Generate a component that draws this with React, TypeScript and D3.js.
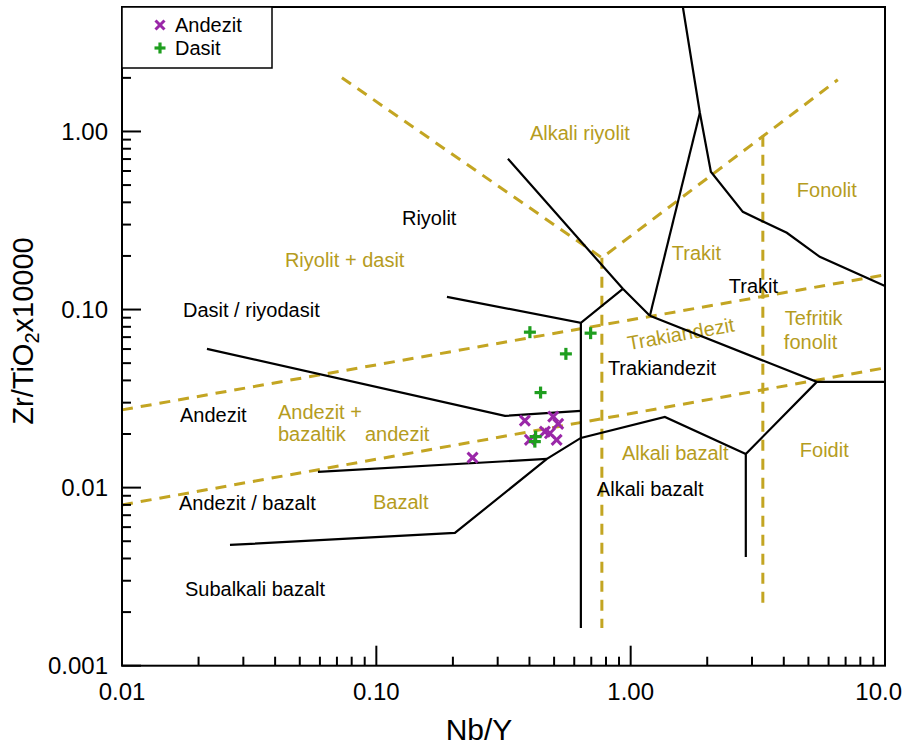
import React from "react";
import * as d3 from "d3";

// Axis extents (log scales)
const xDomain = [0.01, 10];
const yDomain = [0.001, 5];
const xTickLabels = ["0.01", "0.10", "1.00", "10.0"];
const xTickValues = [0.01, 0.1, 1, 10];
const yTickLabels = ["0.001", "0.01", "0.10", "1.00"];
const yTickValues = [0.001, 0.01, 0.1, 1];

// Classification field boundaries (Nb/Y, Zr/TiO2)
const solidBoundaries: [number, number][][] = [
  [[0.02158, 0.06015], [0.3203, 0.02528], [0.6371, 0.02697]],
  [[0.1895, 0.1178], [0.6371, 0.08417], [0.9317, 0.1307]],
  [[0.3292, 0.7025], [0.9317, 0.1307], [1.19, 0.0922]],
  [[1.19, 0.0922], [1.871, 1.274]],
  [[1.604, 5], [1.871, 1.274], [2.067, 0.5937], [2.761, 0.3538], [4.111, 0.2698], [5.542, 0.1978], [10, 0.1358]],
  [[1.19, 0.0922], [5.393, 0.03925], [10, 0.03925]],
  [[5.393, 0.03925], [2.836, 0.01546], [2.836, 0.004079]],
  [[2.836, 0.01546], [1.363, 0.02495], [0.6371, 0.01902], [0.4685, 0.0145], [0.2037, 0.005565], [0.02658, 0.004767]],
  [[0.05895, 0.01225], [0.4685, 0.0145]],
  [[0.6371, 0.08417], [0.6371, 0.001628]],
];

const dashedBoundaries: [number, number][][] = [
  [[0.01, 0.02732], [10, 0.1566]],
  [[0.01, 0.007993], [10, 0.04704]],
  [[0.07322, 2.003], [0.7705, 0.1952], [6.523, 1.952]],
  [[0.7705, 0.1952], [0.7705, 0.001628]],
  [[3.309, 0.9458], [3.309, 0.002165]],
];

// Field names of the two schemes
const goldLabels = [
  { text: "Alkali riyolit", x: 0.4016, y: 0.983 },
  { text: "Riyolit + dasit", x: 0.04371, y: 0.1902 },
  { text: "Andezit +", x: 0.04103, y: 0.02663 },
  { text: "bazaltik", x: 0.04103, y: 0.02003 },
  { text: "andezit", x: 0.0902, y: 0.02003 },
  { text: "Bazalt", x: 0.09696, y: 0.008311 },
  { text: "Trakit", x: 1.452, y: 0.2083 },
  { text: "Fonolit", x: 4.501, y: 0.4705 },
  { text: "Tefritik", x: 4.038, y: 0.08983 },
  { text: "fonolit", x: 4.002, y: 0.06585 },
  { text: "Alkali bazalt", x: 0.9235, y: 0.01566 },
  { text: "Foidit", x: 4.625, y: 0.01629 },
];
const goldRotatedLabel = { text: "Trakiandezit", x: 1.575, y: 0.07303, angle: -10.1 };

const blackLabels = [
  { text: "Riyolit", x: 0.1261, y: 0.3275 },
  { text: "Dasit / riyodasit", x: 0.01737, y: 0.09961 },
  { text: "Andezit", x: 0.0169, y: 0.02561 },
  { text: "Andezit / bazalt", x: 0.01675, y: 0.008204 },
  { text: "Subalkali bazalt", x: 0.01768, y: 0.002697 },
  { text: "Trakit", x: 2.432, y: 0.1358 },
  { text: "Trakiandezit", x: 0.8136, y: 0.04704 },
  { text: "Alkali bazalt", x: 0.7363, y: 0.009833 },
];

// Samples
const andezitNbY = [0.239, 0.3838, 0.4959, 0.5188, 0.46, 0.4814, 0.5115, 0.4016];
const andezitZrTi = [0.01474, 0.02378, 0.02505, 0.0228, 0.02064, 0.02021, 0.01854, 0.01854];
const dasitNbY = [0.4016, 0.6958, 0.5563, 0.4423, 0.4229, 0.42];
const dasitZrTi = [0.07464, 0.07369, 0.05638, 0.03418, 0.01934, 0.01813];

const W = 905;
const H = 746;
const plot = { left: 122, right: 885, top: 7, bottom: 665.7 };

const GOLD = "#c3a522";
const GOLD_TEXT = "#b59c1e";
const PURPLE = "#9a27a8";
const GREEN = "#1f9e1f";
const FONT = "'Liberation Sans', Arial, sans-serif";

function Cross({ cx, cy, r = 5 }: { cx: number; cy: number; r?: number }) {
  return (
    <g stroke={PURPLE} strokeWidth={3} strokeLinecap="butt">
      <line x1={cx - r} y1={cy - r} x2={cx + r} y2={cy + r} />
      <line x1={cx - r} y1={cy + r} x2={cx + r} y2={cy - r} />
    </g>
  );
}

function Plus({ cx, cy, r = 6 }: { cx: number; cy: number; r?: number }) {
  return (
    <g stroke={GREEN} strokeWidth={3.2}>
      <line x1={cx - r} y1={cy} x2={cx + r} y2={cy} />
      <line x1={cx} y1={cy - r} x2={cx} y2={cy + r} />
    </g>
  );
}

export default function App() {
  const x = d3.scaleLog().domain(xDomain).range([plot.left, plot.right]);
  const y = d3.scaleLog().domain(yDomain).range([plot.bottom, plot.top]);
  const line = d3
    .line<[number, number]>()
    .x((d) => x(d[0]))
    .y((d) => y(d[1]));

  // Minor ticks at 2..9 in every decade, within the domains
  const xMinor: number[] = [];
  for (let e = -2; e < 1; e++)
    for (let m = 2; m <= 9; m++) xMinor.push(m * Math.pow(10, e));
  const yMinor: number[] = [];
  for (let e = -3; e < 1; e++)
    for (let m = 2; m <= 9; m++) {
      const v = m * Math.pow(10, e);
      if (v < yDomain[1]) yMinor.push(v);
    }

  return (
    <svg
      width={W}
      height={H}
      style={{ position: "absolute", left: 0, top: 0, background: "#fff" }}
      fontFamily={FONT}
    >
      <rect width={W} height={H} fill="#fff" />

      {/* gold field names */}
      {goldLabels.map((l, i) => (
        <text key={"g" + i} x={x(l.x)} y={y(l.y)} dy="0.35em" fontSize={20} fill={GOLD_TEXT}>
          {l.text}
        </text>
      ))}
      <text
        transform={`translate(${x(goldRotatedLabel.x)},${y(goldRotatedLabel.y)}) rotate(${goldRotatedLabel.angle})`}
        textAnchor="middle"
        dy="0.35em"
        fontSize={20}
        fill={GOLD_TEXT}
      >
        {goldRotatedLabel.text}
      </text>

      {/* dashed boundaries */}
      {dashedBoundaries.map((pts, i) => (
        <path
          key={"d" + i}
          d={line(pts) || ""}
          fill="none"
          stroke={GOLD}
          strokeWidth={3}
          strokeDasharray="11 8"
        />
      ))}

      {/* solid boundaries */}
      {solidBoundaries.map((pts, i) => (
        <path
          key={"s" + i}
          d={line(pts) || ""}
          fill="none"
          stroke="#000"
          strokeWidth={2.2}
          strokeLinejoin="miter"
        />
      ))}

      {/* black field names */}
      {blackLabels.map((l, i) => (
        <text key={"b" + i} x={x(l.x)} y={y(l.y)} dy="0.35em" fontSize={20} fill="#000">
          {l.text}
        </text>
      ))}

      {/* samples */}
      {andezitNbY.map((v, i) => (
        <Cross key={"a" + i} cx={x(v)} cy={y(andezitZrTi[i])} />
      ))}
      {dasitNbY.map((v, i) => (
        <Plus key={"p" + i} cx={x(v)} cy={y(dasitZrTi[i])} />
      ))}

      {/* frame */}
      <rect
        x={plot.left}
        y={plot.top}
        width={plot.right - plot.left}
        height={plot.bottom - plot.top}
        fill="none"
        stroke="#000"
        strokeWidth={2}
      />

      {/* x ticks */}
      {xTickValues.map((v) => (
        <line key={"xt" + v} x1={x(v)} x2={x(v)} y1={plot.bottom} y2={plot.bottom - 20} stroke="#000" strokeWidth={2} />
      ))}
      {xMinor.map((v) => (
        <line key={"xm" + v} x1={x(v)} x2={x(v)} y1={plot.bottom} y2={plot.bottom - 9} stroke="#000" strokeWidth={2} />
      ))}
      {xTickValues.map((v, i) => {
        const last = i === xTickValues.length - 1;
        return (
          <text
            key={"xl" + v}
            x={last ? W - 3 : x(v)}
            y={700}
            textAnchor={last ? "end" : "middle"}
            fontSize={24}
            fill="#000"
          >
            {xTickLabels[i]}
          </text>
        );
      })}

      {/* y ticks */}
      {yTickValues.map((v) => (
        <line key={"yt" + v} x1={plot.left} x2={plot.left + 19} y1={y(v)} y2={y(v)} stroke="#000" strokeWidth={2} />
      ))}
      {yMinor.map((v) => (
        <line key={"ym" + v} x1={plot.left} x2={plot.left + 9} y1={y(v)} y2={y(v)} stroke="#000" strokeWidth={2} />
      ))}
      {yTickValues.map((v, i) => (
        <text key={"yl" + v} x={108} y={y(v)} dy="0.35em" textAnchor="end" fontSize={24} fill="#000">
          {yTickLabels[i]}
        </text>
      ))}

      {/* axis titles */}
      <text x={479} y={740} textAnchor="middle" fontSize={30} fill="#000">
        Nb/Y
      </text>
      <text transform="translate(33,331) rotate(-90)" textAnchor="middle" fontSize={29} fill="#000">
        Zr/TiO
        <tspan dy={6} fontSize={20}>2</tspan>
        <tspan dy={-6}>x10000</tspan>
      </text>

      {/* legend */}
      <rect x={plot.left} y={plot.top} width={150} height={61} fill="#fff" stroke="#000" strokeWidth={1.5} />
      <Cross cx={160} cy={25} r={4.5} />
      <Plus cx={160} cy={48} r={5.5} />
      <text x={175} y={25} dy="0.35em" fontSize={20} fill="#000">Andezit</text>
      <text x={175} y={48} dy="0.35em" fontSize={20} fill="#000">Dasit</text>
    </svg>
  );
}
